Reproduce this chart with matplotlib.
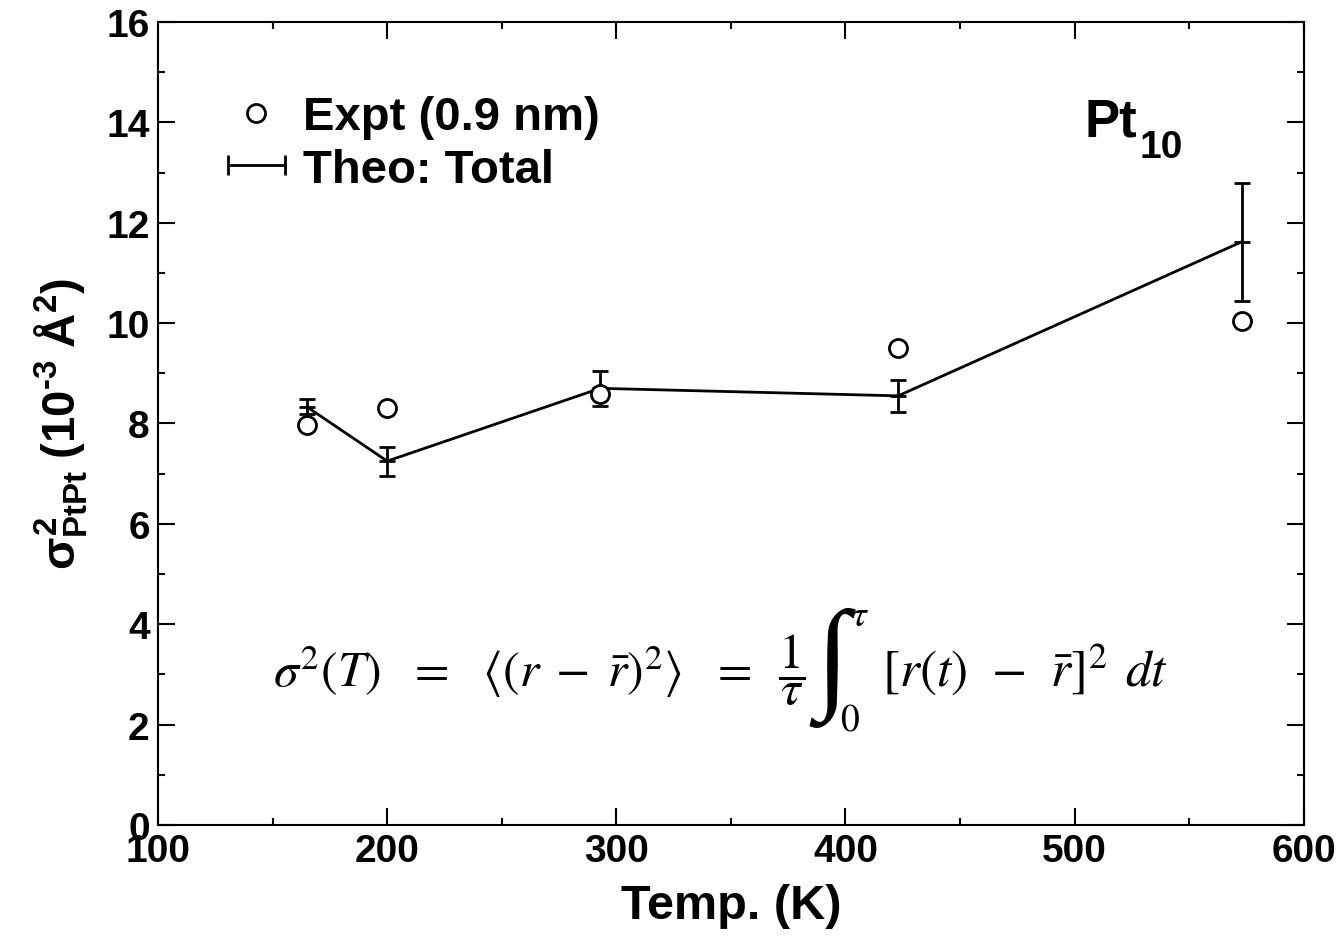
import matplotlib
matplotlib.use("Agg")
import matplotlib.pyplot as plt
from matplotlib.lines import Line2D
from matplotlib.legend_handler import HandlerLine2D

plt.rcParams['font.family'] = ['Liberation Sans', 'DejaVu Sans']
plt.rcParams['font.weight'] = 'normal'
plt.rcParams['mathtext.fontset'] = 'custom'
plt.rcParams['mathtext.rm'] = 'Liberation Sans:bold'
plt.rcParams['mathtext.it'] = 'Liberation Sans:bold'
plt.rcParams['mathtext.bf'] = 'Liberation Sans:bold'
plt.rcParams['mathtext.sf'] = 'Liberation Sans:bold'

# Data
expt_T = [165, 200, 293, 423, 573]
expt_sigma = [7.97, 8.31, 8.59, 9.50, 10.04]
theo_T = [165, 200, 293, 423, 573]
theo_sigma = [8.33, 7.25, 8.70, 8.55, 11.62]
theo_err = [0.15, 0.29, 0.35, 0.32, 1.17]
x_ticks = [100, 200, 300, 400, 500, 600]
y_ticks = [0, 2, 4, 6, 8, 10, 12, 14, 16]
x_minor = [150, 250, 350, 450, 550]
y_minor = [1, 3, 5, 7, 9, 11, 13, 15]

fig = plt.figure(figsize=(13.44, 9.37), dpi=100)
ax = fig.add_axes([0.1176, 0.1185, 0.8524, 0.857])

ax.plot(expt_T, expt_sigma, linestyle='none', marker='o', markersize=13,
        markerfacecolor='white', markeredgecolor='black', markeredgewidth=2.0, zorder=3)
ax.errorbar(theo_T, theo_sigma, yerr=theo_err, color='black', linewidth=2.0,
            elinewidth=2.0, capsize=6, capthick=2.0, marker='_', markersize=12,
            markeredgewidth=2.0, zorder=2)

ax.set_xlim(100, 600)
ax.set_ylim(0, 16)
ax.set_xticks(x_ticks)
ax.set_xticklabels([str(v) for v in x_ticks], fontweight='bold')
ax.set_yticks(y_ticks)
ax.set_yticklabels([str(v) for v in y_ticks], fontweight='bold')
ax.set_xticks(x_minor, minor=True)
ax.set_yticks(y_minor, minor=True)
ax.tick_params(which='both', direction='in', top=True, right=True, width=1.5)
ax.tick_params(which='major', length=12, labelsize=28, pad=6)
ax.tick_params(which='minor', length=5)
for s in ax.spines.values():
    s.set_linewidth(1.5)

ax.set_xlabel('Temp. (K)', fontsize=35, fontweight='bold', labelpad=10)
ax.set_ylabel('$\\sigma^2_{\\mathrm{PtPt}}\\;(10^{\u20103}\\;\\mathrm{\u00c5}^2)$', fontsize=34,
              fontweight='bold', labelpad=12)

h1 = Line2D([], [], linestyle='none', marker='o', markersize=13, markerfacecolor='white',
            markeredgecolor='black', markeredgewidth=2.0)
h2 = Line2D([], [], color='black', linewidth=2.0, marker='|', markersize=14,
            markeredgewidth=2.0)
leg = ax.legend([h1, h2], ['Expt (0.9 nm)', 'Theo: Total'], loc='upper left',
                bbox_to_anchor=(0.061, 0.909), frameon=False,
                handlelength=1.2, handletextpad=0.38, labelspacing=0.18,
                borderaxespad=0, borderpad=0,
                prop={'weight': 'bold', 'size': 34},
                handler_map={h1: HandlerLine2D(numpoints=1),
                             h2: HandlerLine2D(numpoints=2, marker_pad=0)})

ax.text(0.809, 0.858, 'Pt', transform=ax.transAxes, fontsize=38,
        fontweight='bold', ha='left', va='baseline')
ax.text(0.857, 0.832, '10', transform=ax.transAxes, fontsize=28,
        fontweight='bold', ha='left', va='baseline')

# Equation, built from pieces so that the integral sign is large
eq_kw = dict(math_fontfamily='stix', fontweight='normal', transform=ax.transAxes)
ax.text(0.1003, 0.1943,
        r'$\sigma^2(T)\;\;\,=\;\;\,\langle(r\;-\;\bar{r})^2\rangle\;\;\,=\;\;\dfrac{1}{\tau}$',
        fontsize=36, ha='left', va='center', **eq_kw)
ax.text(0.5885, 0.1968, '\u222b', fontsize=88, ha='center', va='center',
        family=['Liberation Serif', 'DejaVu Serif'], fontweight='normal',
        transform=ax.transAxes)
ax.text(0.6045, 0.2615, r'$\tau$', fontsize=27, ha='left', va='center', **eq_kw)
ax.text(0.5955, 0.1308, r'$0$', fontsize=27, ha='left', va='center', **eq_kw)
ax.text(0.632, 0.194, r'$[r(t)\;\,-\;\,\bar{r}]^2\;\,dt$', fontsize=37,
        ha='left', va='center', **eq_kw)

fig.savefig('out.png', dpi=100)
